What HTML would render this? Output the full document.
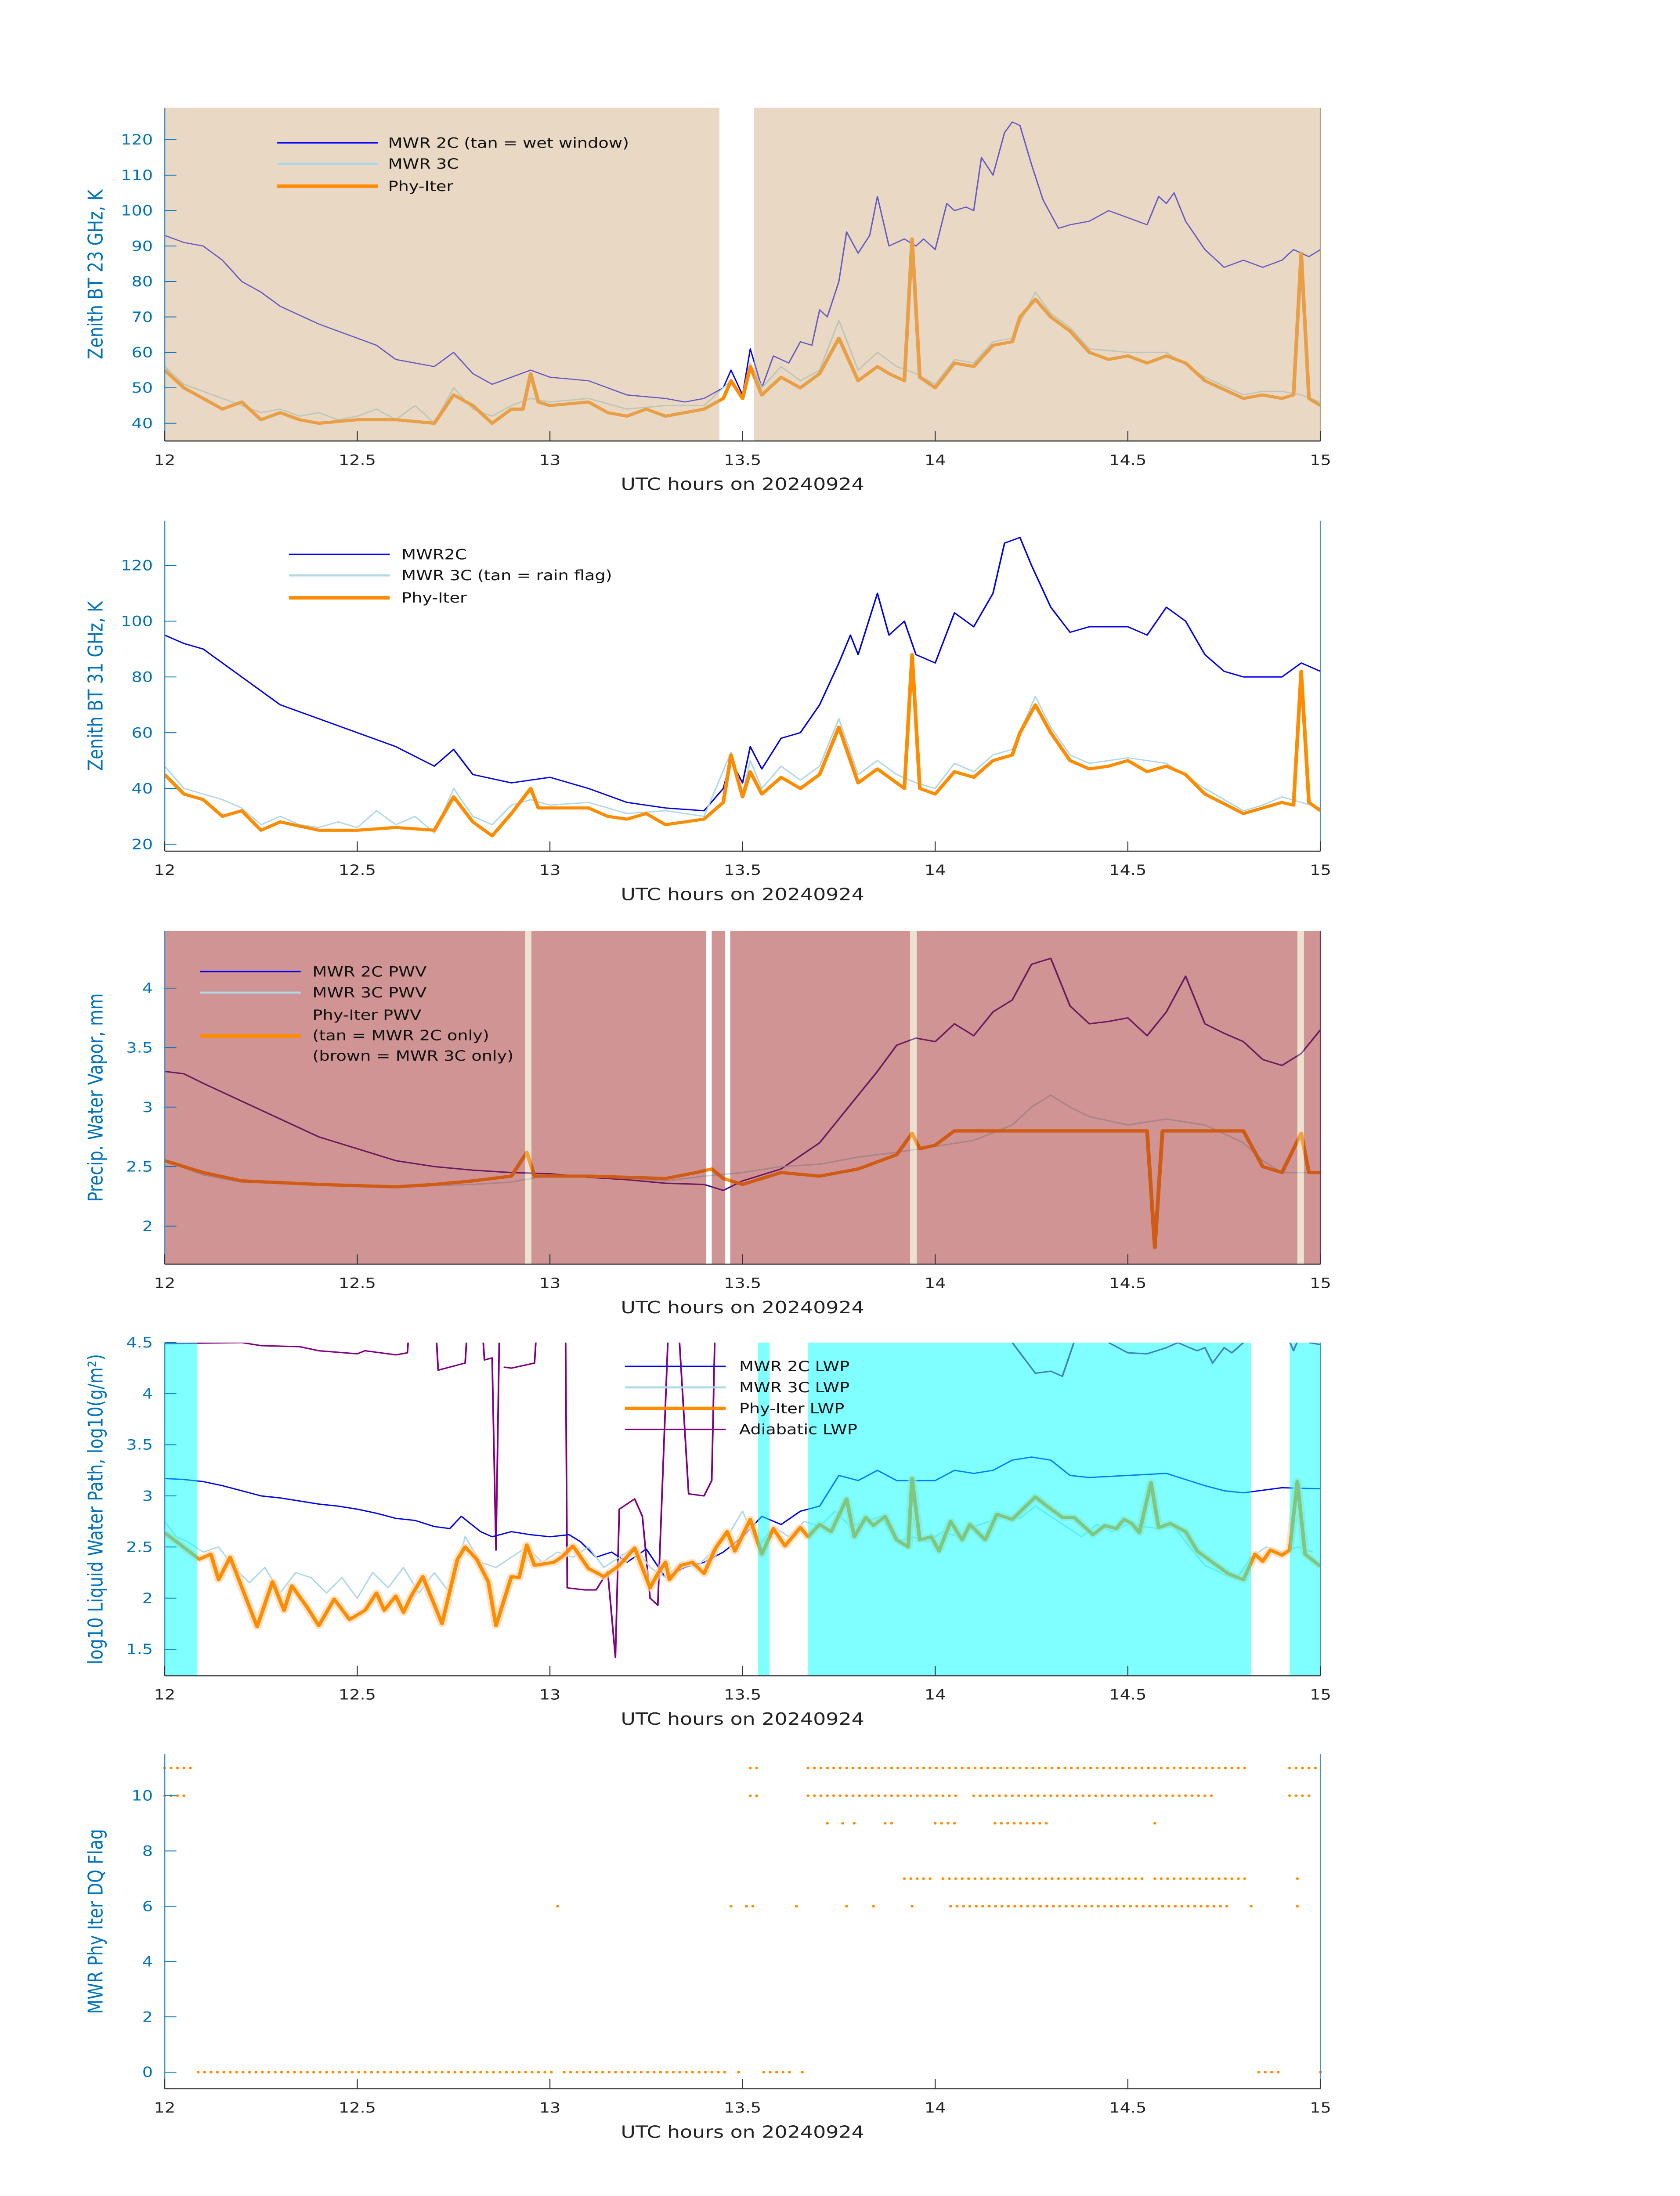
<!DOCTYPE html>
<html><head><meta charset="utf-8">
<style>html,body{margin:0;padding:0;background:#fff;width:100%;height:100%;overflow:hidden}
svg{display:block;position:absolute;left:0;top:0;width:100vw;height:100vh}
text{font-family:"DejaVu Sans","Liberation Sans",sans-serif}</style></head>
<body>
<svg id="fig" xmlns="http://www.w3.org/2000/svg" viewBox="0 0 1000 1568.6" preserveAspectRatio="none"></svg>
<script>
// ---------- DATA ----------
// Panel 1: 23 GHz BT
const p1_2c_t=[12.0,12.05,12.1,12.15,12.2,12.25,12.3,12.4,12.5,12.55,12.6,12.7,12.75,12.8,12.85,12.9,12.95,13.0,13.1,13.15,13.2,13.3,13.35,13.4,13.45,13.47,13.5,13.52,13.55,13.58,13.62,13.65,13.68,13.7,13.72,13.75,13.77,13.8,13.83,13.85,13.88,13.92,13.95,13.97,14.0,14.03,14.05,14.08,14.1,14.12,14.15,14.18,14.2,14.22,14.25,14.28,14.32,14.35,14.4,14.45,14.5,14.55,14.58,14.6,14.62,14.65,14.7,14.75,14.8,14.85,14.9,14.93,14.97,15.0];
const p1_2c_v=[93,91,90,86,80,77,73,68,64,62,58,56,60,54,51,53,55,53,52,50,48,47,46,47,50,55,48,61,50,59,57,63,62,72,70,80,94,88,93,104,90,92,90,92,89,102,100,101,100,115,110,122,125,124,113,103,95,96,97,100,98,96,104,102,105,97,89,84,86,84,86,89,87,89];
const p1_ph_t=[12.0,12.05,12.1,12.15,12.2,12.25,12.3,12.35,12.4,12.5,12.6,12.7,12.75,12.8,12.85,12.9,12.93,12.95,12.97,13.0,13.1,13.15,13.2,13.25,13.3,13.4,13.45,13.47,13.5,13.52,13.55,13.6,13.65,13.7,13.75,13.8,13.85,13.88,13.92,13.94,13.96,14.0,14.05,14.1,14.15,14.2,14.22,14.26,14.3,14.35,14.4,14.45,14.5,14.55,14.6,14.65,14.7,14.8,14.85,14.9,14.93,14.95,14.97,15.0];
const p1_ph_v=[55,50,47,44,46,41,43,41,40,41,41,40,48,45,40,44,44,54,46,45,46,43,42,44,42,44,47,52,47,56,48,53,50,54,64,52,56,54,52,92,53,50,57,56,62,63,70,75,70,66,60,58,59,57,59,57,52,47,48,47,48,88,47,45];
const p1_3c_t=[12.0,12.05,12.1,12.15,12.2,12.25,12.3,12.35,12.4,12.45,12.5,12.55,12.6,12.65,12.7,12.75,12.8,12.85,12.9,12.95,13.0,13.1,13.2,13.3,13.4,13.47,13.5,13.52,13.55,13.6,13.65,13.7,13.75,13.8,13.85,13.9,13.95,14.0,14.05,14.1,14.15,14.2,14.26,14.3,14.35,14.4,14.5,14.6,14.7,14.8,14.85,14.9,14.95,15.0];
const p1_3c_v=[56,51,49,47,45,43,44,42,43,41,42,44,41,45,40,50,44,42,45,47,46,47,44,45,45,52,47,57,50,56,52,55,69,55,60,56,54,51,58,57,63,64,77,71,67,61,60,60,53,48,49,49,48,46];
// Panel 2: 31 GHz BT
const p2_2c_t=[12.0,12.05,12.1,12.15,12.2,12.3,12.4,12.5,12.6,12.7,12.75,12.8,12.9,13.0,13.1,13.2,13.3,13.4,13.45,13.47,13.5,13.52,13.55,13.6,13.65,13.7,13.75,13.78,13.8,13.85,13.88,13.92,13.95,14.0,14.05,14.1,14.15,14.18,14.22,14.25,14.3,14.35,14.4,14.5,14.55,14.6,14.65,14.7,14.75,14.8,14.9,14.95,15.0];
const p2_2c_v=[95,92,90,85,80,70,65,60,55,48,54,45,42,44,40,35,33,32,40,50,42,55,47,58,60,70,85,95,88,110,95,100,88,85,103,98,110,128,130,120,105,96,98,98,95,105,100,88,82,80,80,85,82];
const p2_ph_t=[12.0,12.05,12.1,12.15,12.2,12.25,12.3,12.4,12.5,12.6,12.7,12.75,12.8,12.85,12.9,12.95,12.97,13.0,13.1,13.15,13.2,13.25,13.3,13.4,13.45,13.47,13.5,13.52,13.55,13.6,13.65,13.7,13.75,13.8,13.85,13.88,13.92,13.94,13.96,14.0,14.05,14.1,14.15,14.2,14.22,14.26,14.3,14.35,14.4,14.45,14.5,14.55,14.6,14.65,14.7,14.8,14.85,14.9,14.93,14.95,14.97,15.0];
const p2_ph_v=[45,38,36,30,32,25,28,25,25,26,25,37,28,23,31,40,33,33,33,30,29,31,27,29,35,52,37,46,38,44,40,45,62,42,47,44,40,88,40,38,46,44,50,52,60,70,60,50,47,48,50,46,48,45,38,31,33,35,34,82,35,32];
const p2_3c_t=[12.0,12.05,12.1,12.15,12.2,12.25,12.3,12.35,12.4,12.45,12.5,12.55,12.6,12.65,12.7,12.75,12.8,12.85,12.9,12.95,13.0,13.1,13.2,13.3,13.4,13.47,13.5,13.52,13.55,13.6,13.65,13.7,13.75,13.8,13.85,13.9,13.95,14.0,14.05,14.1,14.15,14.2,14.26,14.3,14.35,14.4,14.5,14.6,14.7,14.8,14.85,14.9,14.95,15.0];
const p2_3c_v=[48,40,38,36,33,27,30,27,26,28,26,32,27,30,24,40,30,27,34,36,34,35,31,32,30,53,38,50,40,48,43,48,65,45,50,45,42,40,49,46,52,54,73,62,52,49,51,49,40,32,34,37,35,33];
// Panel 3: PWV
const p3_2c_t=[12.0,12.05,12.1,12.2,12.3,12.4,12.5,12.6,12.7,12.8,12.9,13.0,13.1,13.2,13.3,13.4,13.45,13.5,13.6,13.7,13.75,13.8,13.85,13.9,13.95,14.0,14.05,14.1,14.15,14.2,14.25,14.3,14.35,14.4,14.45,14.5,14.55,14.6,14.65,14.7,14.75,14.8,14.85,14.9,14.95,15.0];
const p3_2c_v=[3.3,3.28,3.2,3.05,2.9,2.75,2.65,2.55,2.5,2.47,2.45,2.44,2.41,2.39,2.36,2.35,2.3,2.38,2.48,2.7,2.9,3.1,3.3,3.52,3.58,3.55,3.7,3.6,3.8,3.9,4.2,4.25,3.85,3.7,3.72,3.75,3.6,3.8,4.1,3.7,3.62,3.55,3.4,3.35,3.45,3.65];
const p3_3c_t=[12.0,12.1,12.2,12.4,12.6,12.8,12.9,13.0,13.1,13.2,13.3,13.4,13.5,13.6,13.7,13.8,13.9,14.0,14.1,14.2,14.25,14.3,14.35,14.4,14.5,14.6,14.7,14.8,14.85,14.9,15.0];
const p3_3c_v=[2.55,2.43,2.37,2.35,2.33,2.35,2.37,2.43,2.42,2.4,2.38,2.42,2.45,2.5,2.52,2.58,2.62,2.67,2.72,2.85,3.0,3.1,3.0,2.92,2.85,2.9,2.85,2.7,2.55,2.45,2.45];
const p3_ph_t=[12.0,12.1,12.2,12.4,12.6,12.7,12.8,12.9,12.94,12.96,13.1,13.3,13.38,13.42,13.45,13.5,13.6,13.7,13.8,13.9,13.94,13.96,14.0,14.05,14.55,14.57,14.59,14.8,14.85,14.9,14.95,14.97,15.0];
const p3_ph_v=[2.55,2.45,2.38,2.35,2.33,2.35,2.38,2.42,2.62,2.42,2.42,2.4,2.45,2.48,2.4,2.35,2.45,2.42,2.48,2.6,2.78,2.65,2.68,2.8,2.8,1.82,2.8,2.8,2.5,2.45,2.78,2.45,2.45];
// Panel 4: LWP (log10)
const p4_ph_t=[12.0,12.09,12.12,12.14,12.17,12.24,12.28,12.31,12.33,12.37,12.4,12.44,12.48,12.52,12.55,12.57,12.6,12.62,12.64,12.67,12.72,12.76,12.78,12.81,12.84,12.86,12.9,12.92,12.94,12.96,13.01,13.03,13.06,13.1,13.14,13.18,13.22,13.26,13.28,13.3,13.31,13.34,13.37,13.4,13.43,13.46,13.48,13.52,13.55,13.58,13.61,13.65,13.67,13.7,13.73,13.77,13.79,13.82,13.84,13.87,13.9,13.93,13.94,13.96,13.99,14.01,14.04,14.07,14.09,14.13,14.16,14.2,14.26,14.29,14.33,14.36,14.41,14.44,14.47,14.49,14.51,14.53,14.56,14.58,14.61,14.65,14.68,14.72,14.76,14.8,14.83,14.85,14.87,14.9,14.92,14.94,14.96,15.0];
const p4_ph_v=[2.64,2.38,2.43,2.18,2.4,1.72,2.16,1.88,2.12,1.91,1.73,1.99,1.79,1.88,2.05,1.88,2.02,1.86,2.02,2.21,1.75,2.38,2.5,2.38,2.16,1.73,2.21,2.2,2.52,2.32,2.35,2.4,2.51,2.29,2.21,2.32,2.49,2.1,2.24,2.35,2.18,2.32,2.35,2.24,2.49,2.65,2.46,2.77,2.43,2.68,2.51,2.69,2.6,2.72,2.65,2.97,2.6,2.79,2.71,2.8,2.57,2.5,3.17,2.57,2.6,2.46,2.75,2.57,2.72,2.57,2.82,2.77,2.99,2.9,2.79,2.79,2.62,2.71,2.68,2.77,2.73,2.64,3.13,2.69,2.73,2.65,2.46,2.35,2.24,2.18,2.43,2.36,2.47,2.42,2.47,3.14,2.43,2.31];
const p4_3c_t=[12.0,12.03,12.06,12.1,12.14,12.18,12.22,12.26,12.3,12.34,12.38,12.42,12.46,12.5,12.54,12.58,12.62,12.66,12.7,12.74,12.78,12.82,12.86,12.9,12.94,12.98,13.02,13.06,13.1,13.14,13.18,13.22,13.26,13.3,13.34,13.38,13.42,13.46,13.5,13.54,13.58,13.62,13.66,13.7,13.74,13.78,13.82,13.86,13.9,13.94,13.98,14.02,14.06,14.1,14.14,14.18,14.22,14.26,14.3,14.34,14.38,14.42,14.46,14.5,14.54,14.58,14.62,14.66,14.7,14.74,14.78,14.82,14.86,14.9,14.94,14.98];
const p4_3c_v=[2.75,2.6,2.55,2.45,2.5,2.3,2.15,2.3,2.05,2.25,2.2,2.05,2.2,2.0,2.25,2.1,2.3,2.05,2.25,2.05,2.6,2.35,2.3,2.4,2.5,2.35,2.45,2.4,2.5,2.3,2.4,2.5,2.3,2.2,2.35,2.3,2.45,2.6,2.85,2.5,2.7,2.6,2.75,2.7,2.85,2.7,2.75,2.8,2.55,2.6,2.55,2.65,2.6,2.7,2.75,2.8,2.78,2.9,2.8,2.7,2.6,2.72,2.65,2.72,2.7,2.68,2.7,2.5,2.32,2.25,2.18,2.4,2.5,2.45,2.5,2.45];
const p4_2c_t=[12.0,12.05,12.1,12.15,12.2,12.25,12.3,12.35,12.4,12.45,12.5,12.55,12.6,12.65,12.7,12.74,12.77,12.82,12.85,12.9,12.95,13.0,13.05,13.08,13.12,13.16,13.2,13.25,13.3,13.35,13.4,13.45,13.5,13.55,13.6,13.65,13.7,13.75,13.8,13.85,13.9,14.0,14.05,14.1,14.15,14.2,14.25,14.3,14.35,14.4,14.5,14.6,14.7,14.75,14.8,14.9,15.0];
const p4_2c_v=[3.17,3.16,3.14,3.1,3.05,3.0,2.98,2.95,2.92,2.9,2.87,2.83,2.78,2.76,2.7,2.68,2.8,2.65,2.6,2.65,2.62,2.6,2.62,2.55,2.4,2.45,2.35,2.48,2.2,2.3,2.35,2.45,2.6,2.8,2.72,2.85,2.9,3.2,3.15,3.25,3.15,3.15,3.25,3.22,3.25,3.35,3.38,3.35,3.2,3.18,3.2,3.22,3.1,3.05,3.03,3.08,3.07];
const p4_ad_t=[12.0,12.2,12.25,12.35,12.4,12.5,12.52,12.6,12.63,12.64,null,12.7,12.71,12.75,12.78,12.79,null,12.82,12.83,12.85,12.86,12.87,null,12.88,12.9,12.96,12.97,null,13.04,13.045,13.09,13.12,13.15,13.17,13.18,13.22,13.24,13.26,13.28,13.31,null,13.33,13.36,13.4,13.42,13.43,null,14.2,14.26,14.3,14.33,14.36,null,14.45,14.5,14.55,14.6,14.63,14.66,14.68,14.7,14.72,14.75,14.77,14.8,null,14.91,14.93,14.95,null,14.97,15.0];
const p4_ad_v=[4.49,4.5,4.47,4.46,4.42,4.39,4.42,4.38,4.4,4.9,null,4.9,4.23,4.27,4.3,4.9,null,4.9,4.33,4.35,2.47,4.9,null,4.26,4.25,4.3,4.9,null,4.9,2.1,2.08,2.08,2.26,1.42,2.87,2.97,2.8,2.0,1.93,4.9,null,4.9,3.02,3.0,3.15,4.9,null,4.5,4.2,4.22,4.17,4.5,null,4.5,4.4,4.39,4.45,4.5,4.45,4.42,4.45,4.3,4.45,4.4,4.5,null,4.6,4.42,4.6,null,4.5,4.48];
// Panel 5: DQ flags — [flag, startHour, endHour]
const dq_flag=[11,11,11,11,10,10,10,10,10,9,9,9,9,9,9,9,7,7,7,7,6,6,6,6,6,6,6,6,6,6,0,0,0,0,0,0,0];
const dq_start=[12.0,13.52,13.67,14.92,12.0,13.52,13.67,14.10,14.92,13.72,13.76,13.79,13.87,14.0,14.155,14.57,13.92,14.02,14.57,14.94,13.02,13.47,13.51,13.64,13.77,13.84,13.94,14.04,14.82,14.94,12.087,13.037,13.49,13.555,13.655,14.84,15.0];
const dq_end=[12.076,13.544,14.806,14.99,12.055,13.544,14.06,14.72,14.975,13.72,13.76,13.79,13.89,14.06,14.29,14.57,13.99,14.54,14.806,14.94,13.02,13.47,13.54,13.64,13.77,13.84,13.94,14.77,14.82,14.94,13.004,13.46,13.49,13.627,13.655,14.90,15.0];
// Shading intervals
const p1_tan=[[12.0,13.44],[13.53,15.0]];
const p3_tan=[[12.935,12.952],[13.935,13.952],[14.94,14.957]];
const p4_cyan=[[12.0,12.085],[13.54,13.57],[13.67,14.82],[14.92,15.0]];
const xTicks=[12,12.5,13,13.5,14,14.5,15];
const xTickLabels=["12","12.5","13","13.5","14","14.5","15"];

// ---------- DRAW ----------
const NS="http://www.w3.org/2000/svg";
const fig=document.getElementById('fig');
function mk(tag,attrs,parent){const e=document.createElementNS(NS,tag);for(const k in attrs)e.setAttribute(k,attrs[k]);(parent||fig).appendChild(e);return e;}
const X0=98,X1=786;
function xs(t){return X0+(t-12)/3*(X1-X0);}
function makeY(p){return v=>p.y1-(v-p.ymin)/(p.ymax-p.ymin)*(p.y1-p.y0);}
const panels=[
 {id:'p1',y0:77,y1:315,ymin:35,ymax:129,ticks:[40,50,60,70,80,90,100,110,120],label:'Zenith BT 23 GHz, K'},
 {id:'p2',y0:372,y1:608,ymin:17.5,ymax:136,ticks:[20,40,60,80,100,120],label:'Zenith BT 31 GHz, K'},
 {id:'p3',y0:665,y1:903,ymin:1.68,ymax:4.48,ticks:[2,2.5,3,3.5,4],label:'Precip. Water Vapor, mm'},
 {id:'p4',y0:959,y1:1197,ymin:1.24,ymax:4.5,ticks:[1.5,2,2.5,3,3.5,4,4.5],label:'log10 Liquid Water Path, log10(g/m²)'},
 {id:'p5',y0:1253,y1:1492,ymin:-0.6,ymax:11.5,ticks:[0,2,4,6,8,10],label:'MWR Phy Iter DQ Flag'}
];
panels.forEach(p=>{p.ys=makeY(p);});

function pathD(ts,vs,ys){let d='',pen=false;for(let i=0;i<ts.length;i++){if(ts[i]===null||vs[i]===null){pen=false;continue;}d+=(pen?'L':'M')+xs(ts[i]).toFixed(2)+' '+ys(vs[i]).toFixed(2);pen=true;}return d;}
function series(p,g,ts,vs,color,w,op,name){
  const e=mk('path',{d:pathD(ts,vs,p.ys),fill:'none',stroke:color,'stroke-width':w,'stroke-opacity':op,'stroke-linejoin':'round'},g);
  
  
}
function band(p,g,a,b,fill,name){
  const e=mk('rect',{x:xs(a),y:p.y0,width:xs(b)-xs(a),height:p.y1-p.y0,fill:fill},g);
  
  
}
function axes(p,spineColor){
  const g=mk('g',{});
  
  
  mk('line',{x1:X0,x2:X0,y1:p.y0,y2:p.y1,stroke:'#4a90c8','stroke-width':0.8},g);
  mk('line',{x1:X1,x2:X1,y1:p.y0,y2:p.y1,stroke:spineColor,'stroke-width':0.8},g);
  mk('line',{x1:X0,x2:X1,y1:p.y1,y2:p.y1,stroke:'#333','stroke-width':0.8},g);
  p.ticks.forEach(v=>{const y=p.ys(v);
    mk('line',{x1:X0,x2:X0+7,y1:y,y2:y,stroke:'#0072bd','stroke-width':0.6},g);
    const t=mk('text',{x:X0-7,y:y+3.5,'text-anchor':'end','font-size':10,fill:'#0072bd'},g);t.textContent=String(v);
    
    
  });
  xTicks.forEach((v,i)=>{const x=xs(v);
    mk('line',{x1:x,x2:x,y1:p.y1,y2:p.y1-7,stroke:'#333','stroke-width':0.6},g);
    const t=mk('text',{x:x,y:p.y1+17,'text-anchor':'middle','font-size':10,fill:'#222'},g);t.textContent=xTickLabels[i];
    
    
  });
  const xl=mk('text',{x:442,y:p.y1+35,'text-anchor':'middle','font-size':12,fill:'#222'},g);xl.textContent='UTC hours on 20240924';
  
  
  const cy=(p.y0+p.y1)/2;
  const yl=mk('text',{x:0,y:0,'text-anchor':'middle','font-size':12,fill:'#0072bd',transform:`translate(61,${cy}) rotate(-90)`},g);yl.textContent=p.label;
  
  
}
function legend(entries,x,textX){
  const g=mk('g',{});
  
  
  entries.forEach(en=>{
    if(en.color){const l=mk('line',{x1:x,x2:x+60,y1:en.ly,y2:en.ly,stroke:en.color,'stroke-width':en.w},g);
      
      }
    en.lines.forEach((s,i)=>{const t=mk('text',{x:textX,y:en.ty+i*14.6+3.5,'font-size':10,fill:'#111'},g);t.textContent=s;
      
      });
  });
}
function clip(p){const c=mk('clipPath',{id:'c'+p.id});mk('rect',{x:X0,y:p.y0,width:X1-X0,height:p.y1-p.y0},c);const g=mk('g',{'clip-path':`url(#c${p.id})`});return g;}

// Panel 1
{const p=panels[0];const g=clip(p);
 series(p,g,p1_2c_t,p1_2c_v,'#0000ff',0.8,1,'mwr2c-bt23');
 series(p,g,p1_3c_t,p1_3c_v,'#add8e6',0.9,1,'mwr3c-bt23');
 series(p,g,p1_ph_t,p1_ph_v,'#ff8c00',2.2,1,'phyiter-bt23');
 p1_tan.forEach(b=>band(p,g,b[0],b[1],'rgba(210,178,138,0.5)','wet-window-band'));
 axes(p,'#b8a080');
 legend([{color:'#0000ff',w:1,ly:102,ty:102,lines:['MWR 2C (tan = wet window)']},{color:'#add8e6',w:1.5,ly:117,ty:117,lines:['MWR 3C']},{color:'#ff8c00',w:2.5,ly:133,ty:133,lines:['Phy-Iter']}],165,231);}
// Panel 2
{const p=panels[1];const g=clip(p);
 series(p,g,p2_2c_t,p2_2c_v,'#0000ee',0.9,1,'mwr2c-bt31');
 series(p,g,p2_3c_t,p2_3c_v,'#add8e6',0.9,1,'mwr3c-bt31');
 series(p,g,p2_ph_t,p2_ph_v,'#ff8c00',2.2,1,'phyiter-bt31');
 axes(p,'#4a90c8');
 legend([{color:'#0000ee',w:1,ly:396,ty:396,lines:['MWR2C']},{color:'#add8e6',w:1.5,ly:411,ty:411,lines:['MWR 3C (tan = rain flag)']},{color:'#ff8c00',w:2.5,ly:427,ty:427,lines:['Phy-Iter']}],172,239);}
// Panel 3
{const p=panels[2];const g=clip(p);
 series(p,g,p3_2c_t,p3_2c_v,'#3a0a9a',1,1,'mwr2c-pwv');
 series(p,g,p3_3c_t,p3_3c_v,'#add8e6',1,0.9,'mwr3c-pwv');
 series(p,g,p3_ph_t,p3_ph_v,'#ff8c00',2.3,1,'phyiter-pwv');
 const segs=[[12.0,12.935],[12.952,13.405],[13.42,13.455],[13.468,13.935],[13.952,14.94],[14.957,15.0]];
 segs.forEach(b=>band(p,g,b[0],b[1],'rgba(160,42,40,0.5)','rain-flag-band'));
 p3_tan.forEach(b=>band(p,g,b[0],b[1],'rgba(215,190,150,0.45)','mwr2c-only-band'));
 axes(p,'#6a3a4a');
 legend([{color:'#0000ff',w:1,ly:694,ty:694,lines:['MWR 2C PWV']},{color:'#add8e6',w:1.5,ly:709,ty:709,lines:['MWR 3C PWV']},{color:'#ff8c00',w:2.5,ly:740,ty:725,lines:['Phy-Iter PWV','(tan = MWR 2C only)','(brown = MWR 3C only)']}],119,186);}
// Panel 4
{const p=panels[3];const g=clip(p);
 series(p,g,p4_ad_t,p4_ad_v,'#800080',1,1,'adiabatic-lwp');
 series(p,g,p4_2c_t,p4_2c_v,'#0000ee',0.9,1,'mwr2c-lwp');
 series(p,g,p4_3c_t,p4_3c_v,'#add8e6',0.9,1,'mwr3c-lwp');
 series(p,g,p4_ph_t,p4_ph_v,'#ffd8b0',5,0.7,'phyiter-lwp-uncertainty');
 series(p,g,p4_ph_t,p4_ph_v,'#ff8c00',2.2,1,'phyiter-lwp');
 p4_cyan.forEach(b=>band(p,g,b[0],b[1],'rgba(0,255,255,0.5)','cloud-band'));
 axes(p,'#4a90c8');
 legend([{color:'#0000ee',w:1,ly:976,ty:976,lines:['MWR 2C LWP']},{color:'#add8e6',w:1.5,ly:991,ty:991,lines:['MWR 3C LWP']},{color:'#ff8c00',w:2.5,ly:1006,ty:1006,lines:['Phy-Iter LWP']},{color:'#800080',w:1,ly:1021,ty:1021,lines:['Adiabatic LWP']}],372,440);}
// Panel 5
{const p=panels[4];const g=mk('g',{});
 
 
 const step=1/60;
 dq_flag.forEach((f,i)=>{for(let t=dq_start[i];t<=dq_end[i]+1e-6;t+=step){
   const c=mk('circle',{cx:xs(t),cy:p.ys(f),r:0.9,fill:'#ff8c00'},g);
   
   
 }});
 axes(p,'#4a90c8');}
</script>
</body></html>
